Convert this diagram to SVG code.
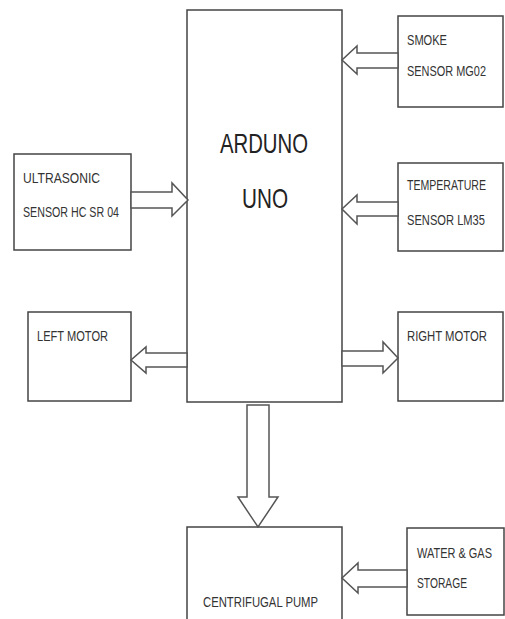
<svg xmlns="http://www.w3.org/2000/svg" width="505" height="619" viewBox="0 0 505 619">
<style>
.box{fill:#fff;stroke:#444;stroke-width:1.5}
.arr{fill:#fff;stroke:#555;stroke-width:1.5;stroke-linejoin:miter}
.t{font-family:"Liberation Sans",Arial,sans-serif;font-size:15px;fill:#333}
.big{font-family:"Liberation Sans",Arial,sans-serif;font-size:28px;fill:#222}
</style>
<rect width="505" height="619" fill="#fff"/>
<g id="arduino">
<rect class="box" x="187" y="10" width="155" height="392"/>
<text class="big" x="220" y="153" textLength="88" lengthAdjust="spacingAndGlyphs">ARDUNO</text>
<text class="big" x="242" y="208" textLength="46" lengthAdjust="spacingAndGlyphs">UNO</text>
</g>
<g id="smoke">
<rect class="box" x="398" y="16" width="105" height="91"/>
<text class="t" x="407" y="45" textLength="40" lengthAdjust="spacingAndGlyphs">SMOKE</text>
<text class="t" x="407" y="76" textLength="79" lengthAdjust="spacingAndGlyphs">SENSOR MG02</text>
</g>
<g id="ultrasonic">
<rect class="box" x="14" y="154" width="117" height="96"/>
<text class="t" x="23" y="183" textLength="77" lengthAdjust="spacingAndGlyphs">ULTRASONIC</text>
<text class="t" x="23" y="217" textLength="96" lengthAdjust="spacingAndGlyphs">SENSOR HC SR 04</text>
</g>
<g id="temperature">
<rect class="box" x="398" y="163" width="105" height="88"/>
<text class="t" x="407" y="190" textLength="79" lengthAdjust="spacingAndGlyphs">TEMPERATURE</text>
<text class="t" x="407" y="225" textLength="78" lengthAdjust="spacingAndGlyphs">SENSOR LM35</text>
</g>
<g id="left-motor">
<rect class="box" x="28" y="312" width="103" height="89"/>
<text class="t" x="37" y="341" textLength="71" lengthAdjust="spacingAndGlyphs">LEFT MOTOR</text>
</g>
<g id="right-motor">
<rect class="box" x="398" y="312" width="105" height="89"/>
<text class="t" x="407" y="341" textLength="80" lengthAdjust="spacingAndGlyphs">RIGHT MOTOR</text>
</g>
<g id="pump">
<rect class="box" x="187" y="527" width="155" height="100"/>
<text class="t" x="203" y="607" textLength="115" lengthAdjust="spacingAndGlyphs">CENTRIFUGAL PUMP</text>
</g>
<g id="storage">
<rect class="box" x="407" y="528" width="97" height="87"/>
<text class="t" x="417" y="558" textLength="75" lengthAdjust="spacingAndGlyphs">WATER &amp; GAS</text>
<text class="t" x="417" y="588" textLength="50" lengthAdjust="spacingAndGlyphs">STORAGE</text>
</g>
<g id="connectors">
<polygon class="arr" points="398,53 357,53 357,46 342,60 357,74 357,68 398,68"/>
<polygon class="arr" points="131,192 172,192 172,183 188,200 172,216 172,208 131,208"/>
<polygon class="arr" points="398,202 357,202 357,195 342,209 357,224 357,216 398,216"/>
<polygon class="arr" points="187,353 146,353 146,347 131,360 146,373 146,367 187,367"/>
<polygon class="arr" points="342,351 383,351 383,342 398,358 383,373 383,366 342,366"/>
<polygon class="arr" points="247,405 269,405 269,497 278,497 258,527 238,497 247,497"/>
<polygon class="arr" points="407,570 358,570 358,563 342,578 358,593 358,587 407,587"/>
</g>
</svg>
